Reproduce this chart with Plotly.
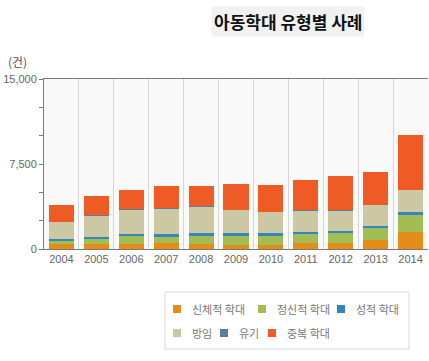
import plotly.graph_objects as go

years = ["2004", "2005", "2006", "2007", "2008", "2009", "2010", "2011", "2012", "2013", "2014"]
physical = [415, 470, 470, 560, 470, 380, 350, 530, 530, 795, 1500]
emotional = [335, 500, 650, 530, 705, 795, 825, 855, 855, 1060, 1564]
sexual = [90, 120, 180, 210, 210, 210, 210, 115, 230, 205, 176]
neglect = [1544, 1850, 2144, 2232, 2324, 2059, 1882, 1915, 1800, 1825, 1970]
abandon = [40, 50, 60, 50, 50, 40, 40, 30, 30, 20, 20]
multiple = [1450, 1660, 1690, 2020, 1840, 2210, 2370, 2615, 2965, 2885, 4800]

series_names = ["신체적 학대", "정신적 학대", "성적 학대", "방임", "유기", "중복 학대"]
series_values = [physical, emotional, sexual, neglect, abandon, multiple]
colors = ["#e48c1a", "#a3bd55", "#3585bf", "#cdc8a4", "#5e7d99", "#ef5b25"]

y_ticks = [0, 7500, 15000]
y_tick_text = ["0", "7,500", "15,000"]
title_text = "아동학대 유형별 사례"
unit_text = "(건)"

W, H = 429, 361
L, R, T, B = 44, 428, 79, 249


def px_x(px):
    return (px - L) / (R - L)


def px_y(py):
    return (B - py) / (B - T)


fig = go.Figure()
for name, vals, col in zip(series_names, series_values, colors):
    fig.add_trace(go.Bar(x=years, y=vals, name=name, marker=dict(color=col, line=dict(width=0)),
                         showlegend=False))

fig.update_layout(
    width=W, height=H,
    margin=dict(l=L, r=W - R, t=T, b=H - B, pad=0),
    barmode="stack", bargap=0.28,
    plot_bgcolor="#f9f9f9", paper_bgcolor="white",
    font=dict(family="Liberation Sans, Arial", size=11, color="#666"),
    xaxis=dict(type="category", tickson="boundaries", showgrid=True, gridcolor="#d6d6d6",
               gridwidth=1, showline=True, linecolor="#7a7a7a", linewidth=1, mirror=True,
               ticks="", tickfont=dict(size=11, color="#666"), zeroline=False),
    yaxis=dict(range=[0, 15000], tickvals=y_ticks, ticktext=y_tick_text, showgrid=False,
               showline=True, linecolor="#7a7a7a", linewidth=1, ticks="outside", ticklen=4,
               tickcolor="#7a7a7a", zeroline=False, tickfont=dict(size=11, color="#666"),
               minor=dict(dtick=2500, ticks="outside", ticklen=4, tickcolor="#7a7a7a", showgrid=False)),
)

annotations = [
    dict(text=f"<b>{title_text}</b>", x=px_x(287.5), y=px_y(21), xref="paper", yref="paper",
         showarrow=False, font=dict(family="Noto Sans CJK KR", size=17, color="#111"),
         bgcolor="#f1f1f1", xanchor="center", yanchor="middle", borderpad=2),
    dict(text=unit_text, x=px_x(6), y=px_y(62), xref="paper", yref="paper", showarrow=False,
         xanchor="left", yanchor="middle", font=dict(family="Noto Sans CJK KR", size=12, color="#555")),
]
shapes = [
    dict(type="rect", xref="paper", yref="paper", x0=px_x(165), x1=px_x(409), y0=px_y(292), y1=px_y(349),
         line=dict(color="#d8d8d8", width=1), fillcolor="white", layer="above"),
]

legend_pos = [(173, 309), (258, 309), (337, 309), (173, 333), (220, 333), (268, 333)]
for (lx, ly), name, col in zip(legend_pos, series_names, colors):
    shapes.append(dict(type="rect", xref="paper", yref="paper", x0=px_x(lx), x1=px_x(lx + 8),
                       y0=px_y(ly - 4), y1=px_y(ly + 4), line=dict(width=0), fillcolor=col))
    annotations.append(dict(text=name, x=px_x(lx + 17), y=px_y(ly), xref="paper", yref="paper",
                            showarrow=False, xanchor="left", yanchor="middle",
                            font=dict(family="Noto Sans CJK KR", size=11, color="#777")))

fig.update_layout(annotations=annotations, shapes=shapes)
fig.write_html("out.html", config={"displayModeBar": False},
               post_script="document.body.style.margin='0';document.body.style.overflow='hidden';")
